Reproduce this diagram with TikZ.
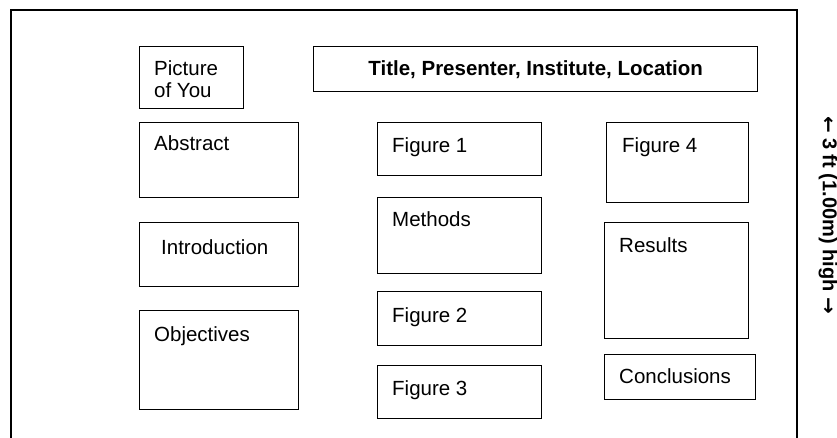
\documentclass[tikz,border=0pt]{standalone}
\usepackage{fontspec}
\setmainfont{Liberation Sans}
\newfontfamily\arrowfont{DejaVu Sans}
\newcommand{\arr}[1]{{\arrowfont\bfseries\fontsize{20}{20}\selectfont#1}}
\tikzset{
  panel/.style={draw, line width=1.4pt, anchor=north west, inner sep=0pt},
  tag/.style={anchor=north west, inner sep=0pt, align=left,
    font=\fontsize{20.5}{22}\selectfont},
}
\begin{document}
\begin{tikzpicture}[x=1pt, y=-1pt]
    \useasboundingbox (0,0) rectangle (837,438);
    \clip (0,0) rectangle (837,438);
    % poster sheet
    \draw[line width=1.4pt] (11,10) rectangle (797,470);
    % left column
    \node[panel, minimum width=104, minimum height=62] (B0_0) at (139,46) {};
    \node[panel, minimum width=159, minimum height=75] (B0_1) at (139,122) {};
    \node[panel, minimum width=159, minimum height=64] (B0_2) at (139,222) {};
    \node[panel, minimum width=159, minimum height=99] (B0_3) at (139,310) {};
    \node[tag] (T0_0) at ([shift={(15,14)}]B0_0.north west) {Picture\\of You};
    \node[tag] (T0_1) at ([shift={(15,13)}]B0_1.north west) {Abstract};
    \node[tag] (T0_2) at ([shift={(22,17)}]B0_2.north west) {Introduction};
    \node[tag] (T0_3) at ([shift={(15,16)}]B0_3.north west) {Objectives};
    % middle column
    \node[panel, minimum width=444, minimum height=45] (B1_0) at (313,46) {};
    \node[panel, minimum width=164, minimum height=53] (B1_1) at (377,122) {};
    \node[panel, minimum width=164, minimum height=76] (B1_2) at (377,197) {};
    \node[panel, minimum width=164, minimum height=54] (B1_3) at (377,291) {};
    \node[panel, minimum width=164, minimum height=53] (B1_4) at (377,365) {};
    \node[font=\bfseries\fontsize{20.5}{22}\selectfont] (T1_0) at (B1_0.center)
      {Title, Presenter, Institute, Location};
    \node[tag] (T1_1) at ([shift={(15,15)}]B1_1.north west) {Figure 1};
    \node[tag] (T1_2) at ([shift={(15,14)}]B1_2.north west) {Methods};
    \node[tag] (T1_3) at ([shift={(15,16)}]B1_3.north west) {Figure 2};
    \node[tag] (T1_4) at ([shift={(15,15)}]B1_4.north west) {Figure 3};
    % right column
    \node[panel, minimum width=142, minimum height=80] (B2_0) at (606,122) {};
    \node[panel, minimum width=144, minimum height=116] (B2_1) at (604,222) {};
    \node[panel, minimum width=151, minimum height=45] (B2_2) at (604,354) {};
    \node[tag] (T2_0) at ([shift={(16,15)}]B2_0.north west) {Figure 4};
    \node[tag] (T2_1) at ([shift={(15,15)}]B2_1.north west) {Results};
    \node[tag] (T2_2) at ([shift={(15,14)}]B2_2.north west) {Conclusions};
    % height
    \node[rotate=-90, inner sep=0pt, font=\bfseries\fontsize{20}{22}\selectfont] (H) at (828,215)
      {\arr{←} 3 ft (1.00m) high \arr{→}};
\end{tikzpicture}
\end{document}
